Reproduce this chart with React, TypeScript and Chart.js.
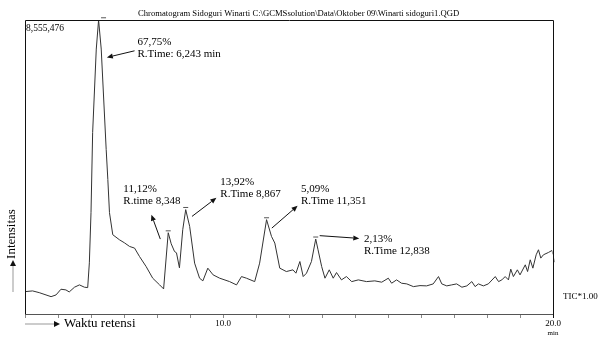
import React, { useEffect, useRef } from 'react';
import { Chart, registerables } from 'chart.js';

Chart.register(...registerables);

const chartTitle = 'Chromatogram Sidoguri Winarti C:\\GCMSsolution\\Data\\Oktober 09\\Winarti sidoguri1.QGD';
const maxIntensity = 8555476;
const maxLabel = '8,555,476';
const xMin = 4;
const xMax = 20;
const labeledTicks = [10, 20];
const yAxisTitle = 'Intensitas';
const xAxisTitle = 'Waktu retensi';
const traceLabel = 'TIC*1.00';
const xUnit = 'min';

const retentionTimes = [
  4.00, 4.23, 4.43, 4.79, 4.94, 5.09, 5.24, 5.34, 5.50, 5.65,
  5.80, 5.90, 5.95, 6.00, 6.05, 6.16, 6.23, 6.31, 6.46, 6.51,
  6.56, 6.66, 6.86, 7.01, 7.17, 7.32, 7.47, 7.67, 7.87, 8.08,
  8.20, 8.34, 8.43, 8.53, 8.59, 8.68, 8.78, 8.87, 8.99, 9.14,
  9.29, 9.39, 9.54, 9.70, 9.90, 10.20, 10.41, 10.56, 10.71, 10.96,
  11.11, 11.32, 11.47, 11.57, 11.72, 11.92, 12.12, 12.21, 12.33, 12.43,
  12.53, 12.68, 12.81, 12.88, 12.99, 13.09, 13.22, 13.34, 13.44, 13.59,
  13.74, 13.90, 14.10, 14.35, 14.60, 14.81, 15.01, 15.11, 15.26, 15.41,
  15.57, 15.77, 15.97, 16.17, 16.37, 16.53, 16.63, 16.78, 16.93, 17.08,
  17.24, 17.39, 17.54, 17.64, 17.74, 17.89, 18.04, 18.25, 18.35, 18.45,
  18.55, 18.65, 18.72, 18.80, 18.92, 19.00, 19.16, 19.23, 19.31, 19.39,
  19.49, 19.56, 19.63, 19.71, 19.86, 19.97,
];

const intensities = [
  651000, 672000, 622000, 505000, 555000, 721000, 701000, 642000, 780000, 847000,
  780000, 768000, 1489000, 2949000, 5285000, 7709000, 8555476, 7709000, 4789000, 3913000,
  2949000, 2307000, 2161000, 2073000, 1965000, 1918000, 1673000, 1381000, 1042000, 847000,
  730000, 2365000, 2044000, 1819000, 1781000, 1343000, 2453000, 3037000, 2549000, 1480000,
  1042000, 964000, 1334000, 1139000, 1042000, 943000, 847000, 1089000, 1042000, 943000,
  1480000, 2745000, 2257000, 2064000, 1334000, 1235000, 1285000, 1188000, 1527000, 1089000,
  1188000, 1527000, 2181000, 1869000, 1381000, 1042000, 1285000, 1042000, 1206000, 993000,
  1089000, 943000, 993000, 943000, 964000, 926000, 1042000, 896000, 993000, 896000,
  876000, 797000, 826000, 818000, 876000, 1089000, 876000, 818000, 847000, 876000,
  780000, 818000, 943000, 797000, 876000, 818000, 876000, 1089000, 943000, 993000,
  1089000, 993000, 1305000, 1089000, 1285000, 1139000, 1431000, 1235000, 1577000, 1334000,
  1723000, 1869000, 1626000, 1723000, 1790000, 1848000,
];

const tailTimes = [19.97, 20.05, 20.20];
const tailIntensities = [1848000, 1500000, 650000];

const peakMarkTimes = [6.38, 8.34, 8.87, 11.32, 12.81];
const peakMarkIntensities = [8620000, 2420000, 3100000, 2800000, 2240000];

const annotationLines = [
  ['67,75%', 'R.Time: 6,243 min'],
  ['11,12%', 'R.time 8,348'],
  ['13,92%', 'R.Time 8,867'],
  ['5,09%', 'R.Time 11,351'],
  ['2,13%', 'R.Time 12,838'],
];
// text anchor (time, intensity) and arrow start/end in data units
const annotationTextAt = [[7.41, 7913000], [6.98, 3620000], [9.92, 3830000], [12.36, 3640000], [14.27, 2190000]];
const annotationArrowFrom = [[7.32, 7659000], [8.10, 2180000], [9.06, 2840000], [11.48, 2500000], [12.93, 2280000]];
const annotationArrowTo = [[6.48, 7466000], [7.83, 2890000], [9.80, 3380000], [12.26, 3150000], [14.13, 2200000]];

const SERIF = '"Liberation Serif", "Times New Roman", serif';

function drawArrow(ctx: CanvasRenderingContext2D, x1: number, y1: number, x2: number, y2: number, lineColor: string, headColor: string, headLen = 7, headHalf = 2.8) {
  const dx = x2 - x1;
  const dy = y2 - y1;
  const len = Math.hypot(dx, dy);
  const ux = dx / len;
  const uy = dy / len;
  const bx = x2 - ux * headLen;
  const by = y2 - uy * headLen;
  ctx.save();
  ctx.strokeStyle = lineColor;
  ctx.lineWidth = 1;
  ctx.beginPath();
  ctx.moveTo(x1, y1);
  ctx.lineTo(bx, by);
  ctx.stroke();
  ctx.fillStyle = headColor;
  ctx.beginPath();
  ctx.moveTo(x2, y2);
  ctx.lineTo(bx - uy * headHalf, by + ux * headHalf);
  ctx.lineTo(bx + uy * headHalf, by - ux * headHalf);
  ctx.closePath();
  ctx.fill();
  ctx.restore();
}

const overlayPlugin = {
  id: 'overlay',
  afterDraw(chart: any) {
    const { ctx, chartArea, scales } = chart;
    const { left, right, top, bottom } = chartArea;
    const xs = scales.x;
    const ys = scales.y;
    ctx.save();
    // frame
    ctx.strokeStyle = '#111';
    ctx.lineWidth = 1;
    ctx.beginPath();
    ctx.moveTo(left + 0.5, bottom);
    ctx.lineTo(left + 0.5, top + 0.5);
    ctx.lineTo(right + 0.5, top + 0.5);
    ctx.lineTo(right + 0.5, bottom + 4);
    ctx.stroke();

    // title
    let fs = 8;
    ctx.font = `${fs}px ${SERIF}`;
    const w = ctx.measureText(chartTitle).width;
    fs = fs * 322 / w;
    ctx.font = `${fs}px ${SERIF}`;
    ctx.fillStyle = '#000';
    ctx.textAlign = 'left';
    ctx.textBaseline = 'middle';
    ctx.fillText(chartTitle, 138, 14);

    // max label
    ctx.font = `9.5px ${SERIF}`;
    ctx.fillText(maxLabel, left + 1, top + 8);

    // annotations
    ctx.font = `11px ${SERIF}`;
    annotationLines.forEach((lines, i) => {
      const tx = xs.getPixelForValue(annotationTextAt[i][0]);
      const ty = ys.getPixelForValue(annotationTextAt[i][1]);
      lines.forEach((ln, j) => ctx.fillText(ln, tx, ty + j * 12));
      drawArrow(
        ctx,
        xs.getPixelForValue(annotationArrowFrom[i][0]), ys.getPixelForValue(annotationArrowFrom[i][1]),
        xs.getPixelForValue(annotationArrowTo[i][0]), ys.getPixelForValue(annotationArrowTo[i][1]),
        '#111', '#111', 6, 2.6,
      );
    });

    // y axis title with arrow
    drawArrow(ctx, 13, 292, 13, 260, '#999', '#111', 6, 3);
    ctx.save();
    ctx.translate(12, 234);
    ctx.rotate(-Math.PI / 2);
    ctx.font = `13px ${SERIF}`;
    ctx.textAlign = 'center';
    ctx.textBaseline = 'middle';
    ctx.fillText(yAxisTitle, 0, 0);
    ctx.restore();

    // x axis title with arrow
    drawArrow(ctx, left, 324, left + 35, 324, '#999', '#111', 6, 3);
    ctx.font = `13px ${SERIF}`;
    ctx.textAlign = 'left';
    ctx.fillText(xAxisTitle, left + 39, 324);

    // trace label and unit
    ctx.font = `9px ${SERIF}`;
    ctx.fillText(traceLabel, right + 10, 297);
    ctx.font = `7px ${SERIF}`;
    ctx.textAlign = 'center';
    ctx.fillText(xUnit, right, 333);
    ctx.restore();
  },
};

export default function App() {
  const canvasRef = useRef<HTMLCanvasElement | null>(null);

  useEffect(() => {
    if (!canvasRef.current) return;
    const chart = new Chart(canvasRef.current, {
      type: 'line',
      data: {
        datasets: [
          {
            data: retentionTimes.map((t, i) => ({ x: t, y: intensities[i] })),
            borderColor: '#333',
            borderWidth: 1,
            pointRadius: 0,
            tension: 0,
          },
          {
            data: tailTimes.map((t, i) => ({ x: t, y: tailIntensities[i] })),
            borderColor: '#999',
            borderWidth: 1,
            borderDash: [4, 4],
            pointRadius: 0,
            clip: false,
          } as any,
          {
            type: 'scatter',
            data: peakMarkTimes.map((t, i) => ({ x: t, y: peakMarkIntensities[i] })),
            pointStyle: 'line',
            pointRadius: 2.5,
            borderColor: '#555',
            borderWidth: 1,
            showLine: false,
            clip: false,
          } as any,
        ],
      },
      options: {
        animation: false,
        responsive: false,
        devicePixelRatio: 1,
        events: [],
        layout: { padding: { left: 25, right: 45, top: 20, bottom: 0 } },
        plugins: { legend: { display: false }, tooltip: { enabled: false }, title: { display: false } },
        scales: {
          x: {
            type: 'linear',
            min: xMin,
            max: xMax,
            afterFit: (scale: any) => { scale.height = 23; },
            afterBuildTicks: (scale: any) => {
              const t = [];
              for (let v = xMin; v <= xMax; v += 1) t.push({ value: v });
              scale.ticks = t;
            },
            ticks: {
              autoSkip: false,
              maxRotation: 0,
              padding: 0,
              color: '#000',
              font: { family: SERIF, size: 9 },
              callback: (v: any) => (labeledTicks.includes(Number(v)) ? Number(v).toFixed(1) : ''),
            },
            grid: { drawOnChartArea: false, drawTicks: true, tickLength: 4, color: '#888' },
            border: { display: true, color: '#555' },
          },
          y: { display: false, min: 0, max: maxIntensity },
        },
      },
      plugins: [overlayPlugin],
    });
    return () => chart.destroy();
  }, []);

  return (
    <div style={{ position: 'fixed', left: 0, top: 0, width: 598, height: 337, background: '#fff' }}>
      <canvas ref={canvasRef} width={598} height={337} />
    </div>
  );
}
